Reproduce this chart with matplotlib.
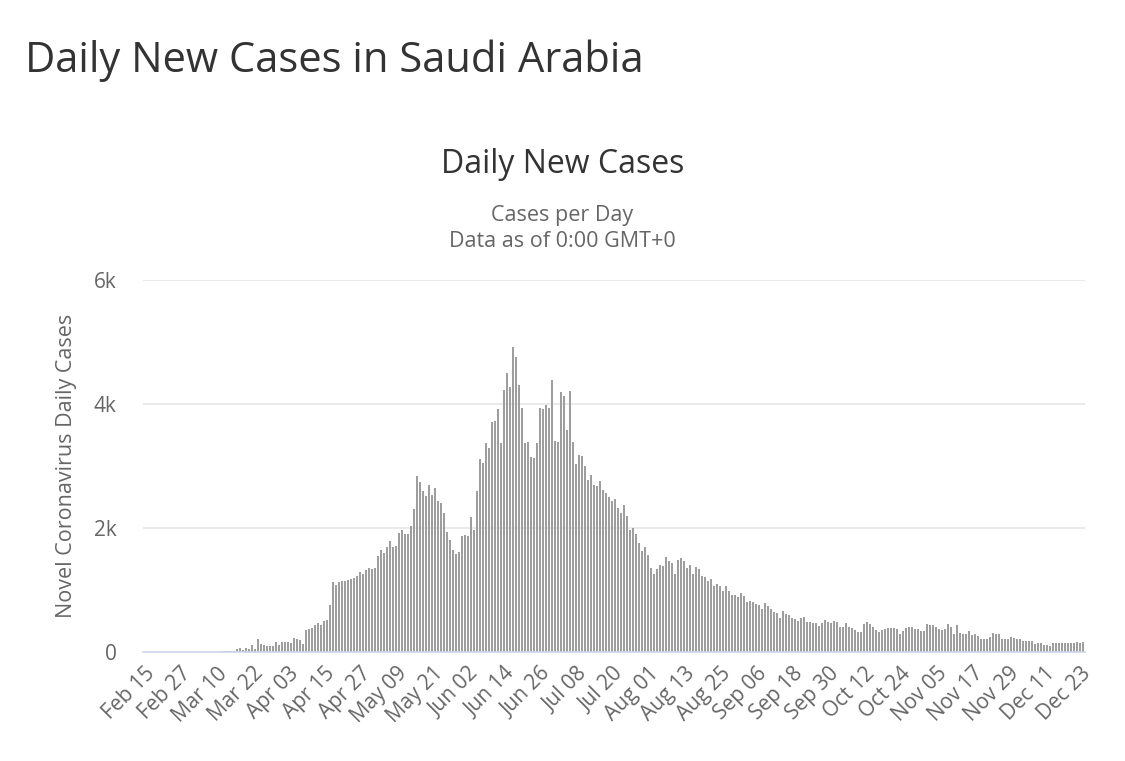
import numpy as np
import pandas as pd
import matplotlib
matplotlib.use("Agg")
import matplotlib.pyplot as plt

# Daily new cases, Saudi Arabia, 2020
feb = [0] * 15  # Feb 15 - Feb 29
mar = [0, 1, 0, 0, 4, 0, 0, 6, 4, 5, 1, 24, 17, 24, 17, 15, 53, 67, 36, 70,
       48, 119, 51, 205, 133, 112, 92, 99, 96, 154, 110]
apr = [157, 165, 154, 140, 223, 203, 190, 137, 355, 364, 382, 429, 472, 435, 493,
       518, 762, 1132, 1088, 1122, 1147, 1141, 1158, 1172, 1197, 1223, 1289, 1266,
       1325, 1351]
may = [1344, 1362, 1552, 1645, 1595, 1687, 1793, 1701, 1704, 1912, 1966, 1911, 1905,
       2039, 2307, 2840, 2736, 2593, 2509, 2691, 2532, 2642, 2442, 2399, 2235, 1931,
       1815, 1644, 1581, 1618, 1877]
jun = [1881, 1869, 2171, 1975, 2591, 3121, 3045, 3369, 3288, 3717, 3733, 3921, 3366,
       4233, 4507, 4267, 4919, 4757, 4301, 3941, 3379, 3393, 3139, 3123, 3372, 3938,
       3927, 3989, 3943, 4387]
jul = [3402, 3383, 4193, 4128, 3580, 4207, 3392, 3036, 3183, 3159, 2994, 2779, 2852,
       2692, 2671, 2764, 2613, 2565, 2504, 2429, 2476, 2331, 2238, 2378, 2201, 1968,
       1993, 1897, 1759, 1629, 1686]
aug = [1573, 1357, 1258, 1342, 1402, 1389, 1530, 1467, 1428, 1257, 1482, 1521, 1469,
       1363, 1409, 1258, 1372, 1342, 1227, 1204, 1145, 1184, 1069, 1093, 1068, 986,
       1059, 977, 920, 918, 880]
sep = [951, 896, 812, 820, 804, 768, 762, 698, 792, 747, 695, 648, 637, 544, 666,
       618, 591, 541, 540, 496, 553, 561, 492, 483, 472, 466, 426, 467, 517, 488]
oct_nov_dec = [467, 508, 478, 402, 406, 462, 409, 393, 358, 323,
               320, 460, 490, 460, 400, 350, 330, 350, 370, 380, 380, 380, 370, 290,
               340, 380, 400, 400, 370, 370, 340, 340, 460, 440, 440, 400, 370, 350,
               370, 460, 410, 290, 440, 310, 290, 290, 340, 270, 290, 260, 210, 210,
               210, 250, 310, 290, 290, 210, 210, 210, 240, 220, 210, 210, 180, 180,
               180, 170, 130, 140, 150, 110, 120, 90, 140, 150, 150, 150, 150, 150,
               150, 150, 160, 140, 160]

cases = feb + mar + apr + may + jun + jul + aug + sep + oct_nov_dec
dates = pd.date_range("2020-02-15", periods=len(cases), freq="D")
labels = [d.strftime("%b %d") for d in dates]

fig = plt.figure(figsize=(11.25, 7.61), dpi=100)
plt.rcParams['font.family'] = ['Open Sans', 'DejaVu Sans']

ax = fig.add_axes([0.127, 0.1432, 0.8374, 0.4888])
x = np.arange(len(cases))
ax.bar(x, cases, width=0.7, color="#9e9e9e", edgecolor="none", zorder=3)

ax.set_xlim(-0.5, len(cases) - 0.5)
ax.set_ylim(0, 6000)
ax.set_yticks([0, 2000, 4000, 6000])
ax.set_yticklabels(["0", "2k", "4k", "6k"])
ax.yaxis.grid(True, color="#e6e6e6", linewidth=1.2, zorder=0)
ax.tick_params(axis="y", length=0, pad=19, labelsize=15, labelcolor="#666666")

ticks = x[::12]
ax.set_xticks(ticks)
ax.set_xticklabels([labels[i] for i in ticks], rotation=45, ha="right",
                   rotation_mode="anchor")
ax.tick_params(axis="x", length=0, pad=8, labelsize=15, labelcolor="#666666")

for s in ["top", "right", "left"]:
    ax.spines[s].set_visible(False)
ax.spines["bottom"].set_color("#ccd6eb")
ax.spines["bottom"].set_linewidth(1.2)
ax.spines["bottom"].set_zorder(4)

ax.set_ylabel("Novel Coronavirus Daily Cases", fontsize=15.5, color="#666666", labelpad=12)

fig.text(0.022, 0.906, "Daily New Cases in Saudi Arabia", fontsize=30, color="#333333")
fig.text(0.50, 0.773, "Daily New Cases", fontsize=23, color="#333333", ha="center")
fig.text(0.50, 0.71, "Cases per Day", fontsize=15.5, color="#666666", ha="center")
fig.text(0.50, 0.676, "Data as of 0:00 GMT+0", fontsize=15.5, color="#666666", ha="center")

fig.savefig("out.png", dpi=100)
